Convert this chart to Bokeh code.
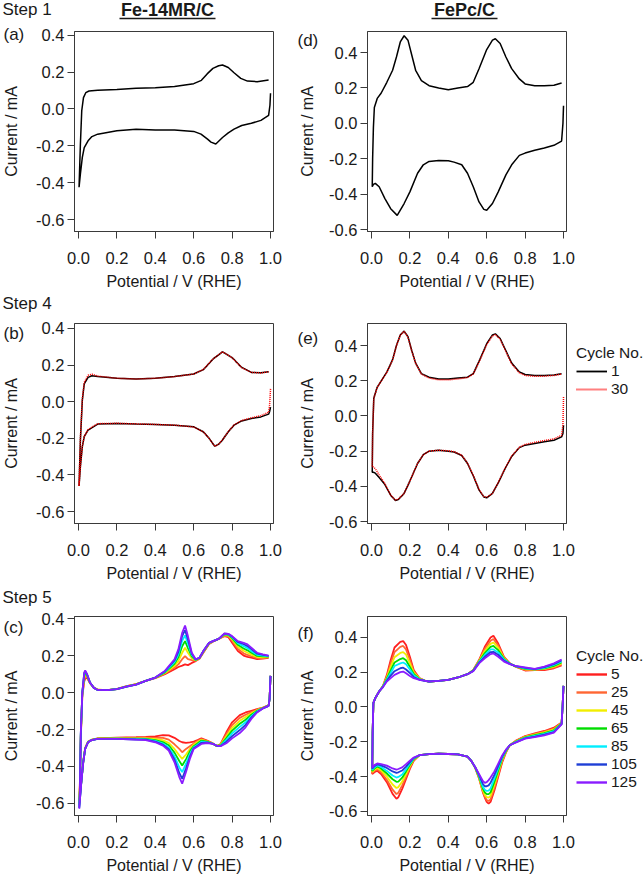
from bokeh.plotting import figure
from bokeh.models import Range1d, FixedTicker, PrintfTickFormatter, Legend, LegendItem, GridBox
from bokeh.layouts import column, row
from bokeh.core.properties import value
from bokeh.embed import file_html
from bokeh.resources import INLINE

# ---------------- data ----------------
X_TICKS = [0.0, 0.2, 0.4, 0.6, 0.8, 1.0]
Y_TICKS = [-0.6, -0.4, -0.2, 0.0, 0.2, 0.4]
X_LABEL = "Potential / V (RHE)"
Y_LABEL = "Current / mA"
COL_TITLES = ["Fe-14MR/C", "FePc/C"]
STEP_LABELS = ["Step 1", "Step 4", "Step 5"]
LEFT_LETTERS = ["(a)", "(b)", "(c)"]
RIGHT_LETTERS = ["(d)", "(e)", "(f)"]
LEGEND_TITLE = "Cycle No."
STEP4_CYCLES = ["1", "30"]

# (a) Fe-14MR/C, step 1
A_DN_E = [1.0, 0.997, 0.99, 0.95, 0.9, 0.85, 0.81, 0.78, 0.75, 0.715, 0.69, 0.672, 0.638, 0.6, 0.5, 0.4, 0.3, 0.2, 0.1, 0.07, 0.05, 0.03, 0.02, 0.01, 0.003]
A_DN_I = [0.085, 0.02, -0.035, -0.062, -0.078, -0.09, -0.11, -0.13, -0.155, -0.19, -0.18, -0.164, -0.137, -0.122, -0.115, -0.115, -0.11, -0.119, -0.137, -0.15, -0.173, -0.21, -0.263, -0.353, -0.425]
A_UP_E = [0.003, 0.01, 0.017, 0.026, 0.038, 0.055, 0.1, 0.2, 0.3, 0.4, 0.5, 0.6, 0.64, 0.67, 0.7, 0.73, 0.75, 0.78, 0.81, 0.845, 0.88, 0.93, 0.99]
A_UP_I = [-0.425, -0.19, -0.01, 0.061, 0.088, 0.097, 0.101, 0.106, 0.112, 0.115, 0.121, 0.137, 0.155, 0.19, 0.22, 0.234, 0.238, 0.225, 0.196, 0.166, 0.151, 0.148, 0.157]

# (d) FePc/C, step 1
D_DN_E = [1.0, 0.997, 0.99, 0.95, 0.9, 0.85, 0.8, 0.77, 0.73, 0.7, 0.66, 0.63, 0.6, 0.585, 0.56, 0.53, 0.5, 0.47, 0.43, 0.4, 0.35, 0.3, 0.27, 0.24, 0.2, 0.17, 0.134, 0.1, 0.07, 0.04, 0.02, 0.01, 0.004]
D_DN_I = [0.099, 0.0, -0.1, -0.124, -0.139, -0.152, -0.168, -0.181, -0.234, -0.291, -0.387, -0.453, -0.491, -0.486, -0.444, -0.358, -0.282, -0.234, -0.219, -0.211, -0.21, -0.215, -0.234, -0.282, -0.387, -0.453, -0.52, -0.482, -0.425, -0.358, -0.339, -0.345, -0.358]
D_UP_E = [0.006, 0.01, 0.015, 0.03, 0.05, 0.08, 0.11, 0.13, 0.15, 0.17, 0.19, 0.21, 0.23, 0.26, 0.3, 0.35, 0.4, 0.45, 0.5, 0.53, 0.56, 0.6, 0.63, 0.645, 0.67, 0.7, 0.73, 0.77, 0.8, 0.85, 0.9, 0.95, 0.99]
D_UP_I = [-0.2, -0.025, 0.09, 0.141, 0.17, 0.232, 0.3, 0.375, 0.46, 0.495, 0.47, 0.385, 0.3, 0.242, 0.213, 0.2, 0.19, 0.2, 0.208, 0.232, 0.309, 0.417, 0.47, 0.478, 0.451, 0.375, 0.309, 0.251, 0.223, 0.213, 0.213, 0.215, 0.228]

# (b) Fe-14MR/C, step 4 (cycle 1 and 30)
B_UP_E = [0.003, 0.01, 0.02, 0.03, 0.05, 0.07, 0.1, 0.2, 0.3, 0.4, 0.5, 0.6, 0.65, 0.7, 0.75, 0.8, 0.85, 0.9, 0.95, 0.99]
B1_UP = [-0.46, -0.209, 0.007, 0.097, 0.133, 0.142, 0.137, 0.128, 0.124, 0.128, 0.137, 0.151, 0.175, 0.232, 0.272, 0.241, 0.187, 0.16, 0.158, 0.164]
B30_UP = [-0.46, -0.2, 0.015, 0.105, 0.145, 0.15, 0.14, 0.128, 0.124, 0.128, 0.137, 0.151, 0.176, 0.233, 0.273, 0.24, 0.186, 0.16, 0.157, 0.163]
B_DN_E = [1.0, 0.995, 0.99, 0.95, 0.9, 0.85, 0.81, 0.78, 0.75, 0.73, 0.71, 0.68, 0.65, 0.6, 0.5, 0.4, 0.3, 0.2, 0.1, 0.05, 0.03, 0.02, 0.01, 0.003]
B1_DN = [-0.03, -0.055, -0.068, -0.083, -0.092, -0.105, -0.128, -0.164, -0.209, -0.232, -0.243, -0.2, -0.164, -0.137, -0.128, -0.124, -0.122, -0.119, -0.122, -0.155, -0.191, -0.245, -0.353, -0.46]
B30_DN = [0.07, -0.02, -0.058, -0.076, -0.088, -0.102, -0.127, -0.163, -0.208, -0.232, -0.244, -0.2, -0.165, -0.138, -0.128, -0.124, -0.121, -0.118, -0.12, -0.152, -0.19, -0.245, -0.35, -0.455]

# (e) FePc/C, step 4 (cycle 1 and 30)
E_UP_E = [0.006, 0.012, 0.03, 0.05, 0.08, 0.11, 0.13, 0.15, 0.17, 0.19, 0.21, 0.23, 0.26, 0.3, 0.35, 0.4, 0.45, 0.5, 0.53, 0.56, 0.6, 0.63, 0.645, 0.67, 0.7, 0.73, 0.77, 0.8, 0.85, 0.9, 0.95, 0.99]
E1_UP = [-0.1, 0.1, 0.164, 0.198, 0.249, 0.32, 0.4, 0.46, 0.482, 0.45, 0.37, 0.3, 0.24, 0.22, 0.21, 0.21, 0.215, 0.22, 0.24, 0.31, 0.41, 0.46, 0.466, 0.44, 0.37, 0.3, 0.25, 0.235, 0.23, 0.23, 0.232, 0.24]
E30_UP = [-0.1, 0.1, 0.162, 0.197, 0.247, 0.318, 0.398, 0.458, 0.48, 0.448, 0.368, 0.298, 0.238, 0.215, 0.205, 0.205, 0.21, 0.218, 0.238, 0.306, 0.405, 0.455, 0.462, 0.436, 0.365, 0.295, 0.245, 0.23, 0.225, 0.226, 0.23, 0.238]
E_DN_E = [1.0, 0.997, 0.99, 0.95, 0.9, 0.85, 0.8, 0.77, 0.73, 0.7, 0.66, 0.63, 0.6, 0.585, 0.56, 0.53, 0.5, 0.47, 0.43, 0.4, 0.35, 0.3, 0.27, 0.24, 0.2, 0.17, 0.14, 0.125, 0.1, 0.07, 0.04, 0.02, 0.01, 0.004]
E1_DN = [-0.053, -0.1, -0.119, -0.138, -0.147, -0.157, -0.166, -0.18, -0.23, -0.29, -0.38, -0.44, -0.465, -0.46, -0.42, -0.34, -0.27, -0.225, -0.205, -0.2, -0.195, -0.2, -0.22, -0.27, -0.37, -0.44, -0.475, -0.48, -0.45, -0.39, -0.35, -0.325, -0.32, -0.32]
E30_DN = [0.108, -0.05, -0.11, -0.13, -0.14, -0.15, -0.162, -0.178, -0.228, -0.288, -0.378, -0.44, -0.462, -0.458, -0.418, -0.338, -0.268, -0.223, -0.203, -0.198, -0.195, -0.2, -0.22, -0.27, -0.37, -0.44, -0.472, -0.478, -0.45, -0.385, -0.335, -0.3, -0.29, -0.29]

# (c) Fe-14MR/C, step 5, cycles 5 ... 125
CYCLES = ["5", "25", "45", "65", "85", "105", "125"]
CYCLE_COLORS = ["#ff1f1f", "#ff6633", "#f2ee00", "#00dd00", "#00eeff", "#1f3fd6", "#8a1cff"]
C_UP_E = [0.007, 0.012, 0.02, 0.03, 0.035, 0.045, 0.06, 0.08, 0.1, 0.15, 0.2, 0.25, 0.3, 0.35, 0.4, 0.45, 0.5, 0.52, 0.54, 0.555, 0.57, 0.59, 0.61, 0.63, 0.65, 0.68, 0.7, 0.73, 0.76, 0.78, 0.8, 0.83, 0.86, 0.88, 0.9, 0.93, 0.96, 0.99]
C5_UP = [-0.5, -0.25, -0.02, 0.06, 0.075, 0.08, 0.05, 0.027, 0.016, 0.013, 0.02, 0.034, 0.046, 0.063, 0.078, 0.099, 0.126, 0.138, 0.145, 0.152, 0.148, 0.16, 0.17, 0.183, 0.215, 0.262, 0.275, 0.29, 0.305, 0.3, 0.269, 0.224, 0.2, 0.193, 0.188, 0.18, 0.183, 0.188]
C25_UP = [-0.51, -0.245, -0.01, 0.07, 0.085, 0.085, 0.051, 0.026, 0.015, 0.013, 0.019, 0.033, 0.045, 0.063, 0.079, 0.103, 0.135, 0.152, 0.18, 0.197, 0.18, 0.175, 0.172, 0.185, 0.218, 0.264, 0.276, 0.29, 0.308, 0.305, 0.28, 0.236, 0.212, 0.203, 0.196, 0.186, 0.186, 0.19]
C45_UP = [-0.52, -0.24, 0.0, 0.08, 0.095, 0.09, 0.052, 0.026, 0.015, 0.013, 0.019, 0.033, 0.044, 0.063, 0.08, 0.106, 0.145, 0.17, 0.215, 0.242, 0.215, 0.185, 0.174, 0.186, 0.22, 0.266, 0.277, 0.29, 0.311, 0.309, 0.288, 0.248, 0.226, 0.215, 0.205, 0.192, 0.19, 0.192]
C65_UP = [-0.53, -0.235, 0.0, 0.09, 0.105, 0.093, 0.053, 0.025, 0.014, 0.013, 0.018, 0.032, 0.044, 0.063, 0.08, 0.109, 0.155, 0.19, 0.25, 0.278, 0.24, 0.195, 0.176, 0.187, 0.222, 0.267, 0.277, 0.29, 0.314, 0.312, 0.294, 0.258, 0.238, 0.228, 0.215, 0.198, 0.195, 0.194]
C85_UP = [-0.54, -0.23, 0.0, 0.1, 0.11, 0.095, 0.054, 0.025, 0.014, 0.013, 0.018, 0.032, 0.043, 0.063, 0.081, 0.112, 0.165, 0.205, 0.28, 0.309, 0.265, 0.203, 0.178, 0.188, 0.223, 0.268, 0.278, 0.29, 0.316, 0.315, 0.299, 0.267, 0.25, 0.24, 0.225, 0.204, 0.199, 0.196]
C105_UP = [-0.55, -0.225, 0.0, 0.105, 0.115, 0.097, 0.054, 0.025, 0.014, 0.013, 0.018, 0.032, 0.043, 0.063, 0.081, 0.115, 0.173, 0.22, 0.305, 0.337, 0.287, 0.21, 0.179, 0.188, 0.224, 0.269, 0.278, 0.29, 0.318, 0.317, 0.302, 0.273, 0.261, 0.251, 0.235, 0.21, 0.203, 0.198]
C125_UP = [-0.56, -0.22, 0.0, 0.108, 0.12, 0.099, 0.054, 0.025, 0.014, 0.013, 0.018, 0.032, 0.043, 0.063, 0.081, 0.117, 0.18, 0.233, 0.323, 0.362, 0.305, 0.215, 0.18, 0.188, 0.224, 0.269, 0.278, 0.29, 0.319, 0.317, 0.305, 0.278, 0.269, 0.26, 0.242, 0.215, 0.206, 0.2]
C_DN_E = [1.0, 0.995, 0.99, 0.96, 0.93, 0.9, 0.87, 0.84, 0.8, 0.77, 0.74, 0.72, 0.7, 0.67, 0.64, 0.62, 0.6, 0.58, 0.56, 0.54, 0.525, 0.5, 0.47, 0.44, 0.4, 0.35, 0.3, 0.2, 0.1, 0.07, 0.05, 0.035, 0.025, 0.015, 0.004]
C5_DN = [0.09, -0.036, -0.07, -0.081, -0.09, -0.099, -0.108, -0.122, -0.161, -0.215, -0.278, -0.29, -0.275, -0.26, -0.248, -0.257, -0.265, -0.27, -0.272, -0.269, -0.262, -0.245, -0.232, -0.23, -0.237, -0.24, -0.242, -0.244, -0.248, -0.255, -0.265, -0.3, -0.37, -0.48, -0.58]
C25_DN = [0.09, -0.036, -0.07, -0.082, -0.093, -0.106, -0.12, -0.137, -0.176, -0.226, -0.281, -0.29, -0.276, -0.262, -0.252, -0.262, -0.275, -0.29, -0.305, -0.323, -0.305, -0.28, -0.255, -0.245, -0.245, -0.244, -0.245, -0.246, -0.249, -0.256, -0.266, -0.301, -0.372, -0.481, -0.59]
C45_DN = [0.09, -0.036, -0.071, -0.083, -0.096, -0.113, -0.133, -0.153, -0.191, -0.236, -0.283, -0.289, -0.276, -0.264, -0.256, -0.268, -0.283, -0.305, -0.335, -0.359, -0.34, -0.305, -0.272, -0.258, -0.252, -0.248, -0.248, -0.248, -0.25, -0.256, -0.267, -0.302, -0.373, -0.482, -0.6]
C65_DN = [0.09, -0.036, -0.071, -0.084, -0.099, -0.12, -0.147, -0.169, -0.206, -0.246, -0.285, -0.289, -0.277, -0.266, -0.26, -0.275, -0.29, -0.318, -0.36, -0.395, -0.37, -0.325, -0.285, -0.268, -0.258, -0.251, -0.25, -0.249, -0.25, -0.256, -0.268, -0.303, -0.374, -0.482, -0.61]
C85_DN = [0.09, -0.036, -0.072, -0.085, -0.102, -0.128, -0.161, -0.186, -0.221, -0.256, -0.287, -0.288, -0.277, -0.268, -0.266, -0.282, -0.296, -0.333, -0.385, -0.43, -0.405, -0.345, -0.297, -0.276, -0.262, -0.253, -0.252, -0.25, -0.251, -0.257, -0.268, -0.304, -0.375, -0.483, -0.62]
C105_DN = [0.09, -0.036, -0.072, -0.086, -0.105, -0.136, -0.175, -0.203, -0.236, -0.266, -0.289, -0.288, -0.278, -0.27, -0.272, -0.288, -0.301, -0.347, -0.41, -0.466, -0.435, -0.362, -0.306, -0.282, -0.266, -0.255, -0.254, -0.251, -0.251, -0.257, -0.269, -0.305, -0.376, -0.484, -0.625]
C125_DN = [0.09, -0.036, -0.072, -0.086, -0.108, -0.143, -0.188, -0.219, -0.248, -0.274, -0.29, -0.287, -0.278, -0.273, -0.278, -0.292, -0.305, -0.359, -0.43, -0.493, -0.457, -0.377, -0.314, -0.287, -0.269, -0.257, -0.255, -0.251, -0.251, -0.257, -0.269, -0.305, -0.377, -0.484, -0.628]

# (f) FePc/C, step 5, cycles 5 ... 125
F_UP_E = [0.006, 0.01, 0.02, 0.04, 0.06, 0.08, 0.1, 0.12, 0.15, 0.165, 0.18, 0.2, 0.22, 0.25, 0.28, 0.3, 0.35, 0.4, 0.45, 0.5, 0.53, 0.56, 0.59, 0.62, 0.635, 0.66, 0.69, 0.72, 0.75, 0.8, 0.85, 0.9, 0.95, 0.99]
F5_UP = [-0.15, 0.023, 0.051, 0.089, 0.121, 0.184, 0.269, 0.341, 0.373, 0.378, 0.355, 0.288, 0.212, 0.165, 0.15, 0.146, 0.15, 0.155, 0.169, 0.188, 0.212, 0.269, 0.345, 0.398, 0.408, 0.364, 0.288, 0.25, 0.231, 0.209, 0.212, 0.212, 0.222, 0.238]
F25_UP = [-0.15, 0.023, 0.051, 0.089, 0.12, 0.175, 0.25, 0.315, 0.345, 0.35, 0.33, 0.27, 0.205, 0.164, 0.15, 0.146, 0.15, 0.155, 0.169, 0.188, 0.211, 0.266, 0.333, 0.38, 0.39, 0.352, 0.284, 0.25, 0.232, 0.212, 0.213, 0.215, 0.226, 0.244]
F45_UP = [-0.15, 0.023, 0.051, 0.089, 0.119, 0.168, 0.23, 0.285, 0.31, 0.315, 0.3, 0.25, 0.197, 0.162, 0.15, 0.146, 0.15, 0.155, 0.169, 0.188, 0.21, 0.263, 0.321, 0.362, 0.37, 0.34, 0.28, 0.249, 0.232, 0.215, 0.214, 0.218, 0.231, 0.25]
F65_UP = [-0.15, 0.023, 0.051, 0.089, 0.118, 0.162, 0.21, 0.255, 0.275, 0.28, 0.268, 0.23, 0.19, 0.16, 0.15, 0.146, 0.15, 0.155, 0.169, 0.188, 0.209, 0.26, 0.309, 0.345, 0.35, 0.326, 0.276, 0.249, 0.233, 0.218, 0.215, 0.221, 0.236, 0.255]
F85_UP = [-0.15, 0.023, 0.051, 0.089, 0.117, 0.157, 0.195, 0.235, 0.25, 0.255, 0.245, 0.215, 0.182, 0.158, 0.15, 0.146, 0.15, 0.155, 0.169, 0.188, 0.208, 0.257, 0.298, 0.33, 0.33, 0.313, 0.272, 0.248, 0.234, 0.221, 0.216, 0.224, 0.241, 0.261]
F105_UP = [-0.15, 0.023, 0.051, 0.089, 0.115, 0.151, 0.18, 0.205, 0.222, 0.225, 0.215, 0.195, 0.172, 0.156, 0.15, 0.146, 0.15, 0.155, 0.169, 0.188, 0.207, 0.253, 0.288, 0.315, 0.316, 0.3, 0.266, 0.247, 0.234, 0.224, 0.217, 0.228, 0.246, 0.267]
F125_UP = [-0.15, 0.023, 0.051, 0.089, 0.114, 0.146, 0.165, 0.184, 0.2, 0.203, 0.193, 0.178, 0.165, 0.155, 0.15, 0.146, 0.15, 0.155, 0.169, 0.188, 0.205, 0.25, 0.279, 0.303, 0.307, 0.288, 0.26, 0.246, 0.235, 0.227, 0.218, 0.231, 0.25, 0.272]
F_DN_E = [1.0, 0.995, 0.99, 0.95, 0.9, 0.85, 0.8, 0.75, 0.72, 0.7, 0.68, 0.66, 0.64, 0.62, 0.61, 0.6, 0.59, 0.58, 0.56, 0.54, 0.52, 0.5, 0.45, 0.4, 0.35, 0.3, 0.25, 0.22, 0.2, 0.18, 0.16, 0.14, 0.13, 0.11, 0.08, 0.05, 0.03, 0.015, 0.004]
F5_DN = [0.121, 0.0, -0.09, -0.119, -0.138, -0.152, -0.167, -0.195, -0.22, -0.262, -0.32, -0.4, -0.48, -0.545, -0.555, -0.545, -0.52, -0.49, -0.41, -0.35, -0.31, -0.285, -0.272, -0.27, -0.268, -0.271, -0.277, -0.309, -0.356, -0.413, -0.47, -0.518, -0.527, -0.499, -0.432, -0.385, -0.366, -0.375, -0.385]
F25_DN = [0.121, 0.0, -0.092, -0.124, -0.142, -0.155, -0.17, -0.197, -0.22, -0.259, -0.313, -0.39, -0.465, -0.53, -0.54, -0.535, -0.515, -0.485, -0.408, -0.349, -0.31, -0.285, -0.272, -0.27, -0.268, -0.271, -0.277, -0.305, -0.348, -0.4, -0.45, -0.492, -0.5, -0.475, -0.418, -0.375, -0.358, -0.368, -0.379]
F45_DN = [0.121, 0.0, -0.093, -0.129, -0.146, -0.159, -0.172, -0.198, -0.22, -0.256, -0.305, -0.378, -0.448, -0.51, -0.52, -0.518, -0.505, -0.478, -0.405, -0.348, -0.31, -0.285, -0.272, -0.27, -0.268, -0.271, -0.277, -0.302, -0.34, -0.385, -0.428, -0.46, -0.465, -0.445, -0.4, -0.364, -0.35, -0.361, -0.373]
F65_DN = [0.121, 0.0, -0.095, -0.134, -0.15, -0.162, -0.175, -0.2, -0.22, -0.253, -0.298, -0.365, -0.43, -0.49, -0.5, -0.5, -0.49, -0.468, -0.4, -0.347, -0.31, -0.285, -0.272, -0.27, -0.268, -0.271, -0.277, -0.299, -0.332, -0.37, -0.406, -0.428, -0.43, -0.415, -0.382, -0.353, -0.342, -0.354, -0.367]
F85_DN = [0.121, 0.0, -0.097, -0.139, -0.155, -0.166, -0.177, -0.202, -0.22, -0.25, -0.292, -0.352, -0.41, -0.468, -0.48, -0.482, -0.475, -0.458, -0.395, -0.346, -0.31, -0.285, -0.272, -0.27, -0.268, -0.271, -0.277, -0.296, -0.325, -0.357, -0.388, -0.402, -0.405, -0.393, -0.367, -0.344, -0.336, -0.347, -0.361]
F105_DN = [0.121, 0.0, -0.098, -0.144, -0.159, -0.17, -0.18, -0.204, -0.22, -0.247, -0.286, -0.338, -0.39, -0.435, -0.45, -0.455, -0.455, -0.442, -0.39, -0.346, -0.31, -0.285, -0.272, -0.27, -0.268, -0.271, -0.277, -0.293, -0.317, -0.342, -0.365, -0.375, -0.378, -0.37, -0.35, -0.335, -0.33, -0.34, -0.355]
F125_DN = [0.121, 0.0, -0.1, -0.148, -0.163, -0.173, -0.182, -0.205, -0.22, -0.245, -0.28, -0.325, -0.37, -0.405, -0.42, -0.432, -0.436, -0.425, -0.385, -0.345, -0.31, -0.285, -0.272, -0.27, -0.268, -0.271, -0.277, -0.29, -0.309, -0.328, -0.347, -0.356, -0.36, -0.353, -0.337, -0.328, -0.324, -0.334, -0.35]

C_UP = [C5_UP, C25_UP, C45_UP, C65_UP, C85_UP, C105_UP, C125_UP]
C_DN = [C5_DN, C25_DN, C45_DN, C65_DN, C85_DN, C105_DN, C125_DN]
F_UP = [F5_UP, F25_UP, F45_UP, F65_UP, F85_UP, F105_UP, F125_UP]
F_DN = [F5_DN, F25_DN, F45_DN, F65_DN, F85_DN, F105_DN, F125_DN]

# ---------------- styling / layout ----------------
FONT = "Liberation Sans"
FRAME = 200
PAGE_W, PAGE_H = 644, 876
LEFT_B = (73, 23)      # left column: border left / right
RIGHT_B = (70, 78)     # right column
ROWS = [(31, 61), (31, 62), (31, 60)]  # top / bottom borders per row
AX = "#3a3a3a"
TXT = "#1a1a1a"
XR = (-0.0207, 1.0155)
NAN = float("nan")


def make_fig(yr, bl, br, bt, bb, ylab_standoff):
    p = figure(width=bl + FRAME + br, height=bt + FRAME + bb,
               x_range=Range1d(*XR), y_range=Range1d(*yr),
               output_backend="svg", toolbar_location=None,
               min_border_left=bl, min_border_right=br,
               min_border_top=bt, min_border_bottom=bb)
    p.xgrid.visible = False
    p.ygrid.visible = False
    p.outline_line_color = AX
    p.outline_line_width = 1
    p.border_fill_color = "white"
    p.background_fill_color = "white"
    for ax in (p.xaxis[0], p.yaxis[0]):
        ax.major_tick_in = 0
        ax.major_tick_out = 7
        ax.minor_tick_line_color = None
        ax.axis_line_color = AX
        ax.major_tick_line_color = AX
        ax.major_label_text_font = FONT
        ax.major_label_text_font_size = "16.5px"
        ax.major_label_text_color = TXT
        ax.axis_label_text_font = FONT
        ax.axis_label_text_font_size = "16px"
        ax.axis_label_text_font_style = "normal"
        ax.axis_label_text_color = TXT
        ax.formatter = PrintfTickFormatter(format="%.1f")
    p.xaxis.ticker = FixedTicker(ticks=X_TICKS)
    p.yaxis.ticker = FixedTicker(ticks=Y_TICKS)
    p.xaxis.axis_label = X_LABEL
    p.yaxis.axis_label = Y_LABEL
    p.xaxis.major_label_standoff = 13
    p.xaxis.axis_label_standoff = 6
    p.yaxis.major_label_standoff = 3
    p.yaxis.axis_label_standoff = ylab_standoff
    return p


def cv(p, dn_e, dn_i, up_e, up_i, **kw):
    return p.line(list(dn_e) + list(up_e), list(dn_i) + list(up_i), **kw)


def left_fig(yr, r):
    bt, bb = ROWS[r]
    return make_fig(yr, LEFT_B[0], LEFT_B[1], bt, bb, 13)


def right_fig(yr, r):
    bt, bb = ROWS[r]
    return make_fig(yr, RIGHT_B[0], RIGHT_B[1], bt, bb, 10)


pa = left_fig((-0.665, 0.42), 0)
pd = right_fig((-0.611, 0.519), 0)
cv(pa, A_DN_E, A_DN_I, A_UP_E, A_UP_I, line_color="black", line_width=1.5)
cv(pd, D_DN_E, D_DN_I, D_UP_E, D_UP_I, line_color="black", line_width=1.5)

pb = left_fig((-0.665, 0.427), 1)
pe = right_fig((-0.611, 0.525), 1)
cv(pb, B_DN_E, B1_DN, B_UP_E, B1_UP, line_color="black", line_width=1.5)
cv(pb, B_DN_E, B30_DN, B_UP_E, B30_UP, line_color="#ff0000", line_width=1.5, line_dash="1 1")
cv(pe, E_DN_E, E1_DN, E_UP_E, E1_UP, line_color="black", line_width=1.5)
cv(pe, E_DN_E, E30_DN, E_UP_E, E30_UP, line_color="#ff0000", line_width=1.5, line_dash="1 1")

pc = left_fig((-0.665, 0.411), 2)
pf = right_fig((-0.623, 0.519), 2)
for k in range(len(CYCLES)):
    cv(pc, C_DN_E, C_DN[k], C_UP_E, C_UP[k], line_color=CYCLE_COLORS[k], line_width=1.8)
    cv(pf, F_DN_E, F_DN[k], F_UP_E, F_UP[k], line_color=CYCLE_COLORS[k], line_width=1.8)

panels = column(row(pa, pd), row(pb, pe), row(pc, pf))

# ---------- transparent overlay (page pixel coordinates) for texts outside the frames ----------
ov = figure(width=PAGE_W, height=PAGE_H, x_range=Range1d(0, PAGE_W), y_range=Range1d(PAGE_H, 0),
            output_backend="svg", toolbar_location=None, x_axis_type=None, y_axis_type=None,
            min_border=0, min_border_left=0, min_border_right=0, min_border_top=0, min_border_bottom=0)
ov.grid.visible = False
ov.outline_line_color = None
ov.background_fill_color = None
ov.border_fill_color = None

ROW_Y = [9, 303, 597]          # step label centres
LETTER_L_Y = [34, 333, 627]
LETTER_R_Y = [40, 338, 633]
ov.text(x=[2, 2, 2], y=ROW_Y, text=STEP_LABELS, text_font=value(FONT), text_font_size=value("17px"),
        text_color=TXT, text_baseline="middle", text_align="left")
ov.text(x=[3, 3, 3], y=LETTER_L_Y, text=LEFT_LETTERS, text_font=value(FONT), text_font_size=value("17px"),
        text_color=TXT, text_baseline="middle", text_align="left")
ov.text(x=[297, 297, 297], y=LETTER_R_Y, text=RIGHT_LETTERS, text_font=value(FONT), text_font_size=value("17px"),
        text_color=TXT, text_baseline="middle", text_align="left")
TITLE_X = [167, 464]
TITLE_HALF = [48, 33]
ov.text(x=TITLE_X, y=[9, 9], text=COL_TITLES, text_font=value(FONT), text_font_size=value("18px"),
        text_font_style="bold", text_color=TXT, text_baseline="middle", text_align="center")
ov.segment(x0=[TITLE_X[0] - TITLE_HALF[0], TITLE_X[1] - TITLE_HALF[1]], y0=[18, 18],
           x1=[TITLE_X[0] + TITLE_HALF[0], TITLE_X[1] + TITLE_HALF[1]], y1=[18, 18],
           line_color=TXT, line_width=1.6)

# legend sample renderers (a single NaN point: nothing is drawn, they only carry the line styles)
leg_e = [ov.line([NAN], [NAN], line_color="black", line_width=1.8),
         ov.line([NAN], [NAN], line_color="#ff0000", line_width=2, line_dash="1 1")]
leg_f = [ov.line([NAN], [NAN], line_color=c, line_width=2.4) for c in CYCLE_COLORS]


def make_legend(renderers, labels, loc):
    leg = Legend(items=[LegendItem(label=l, renderers=[r]) for l, r in zip(labels, renderers)],
                 location=loc, title=LEGEND_TITLE, orientation="vertical",
                 border_line_color=None, background_fill_alpha=0, padding=0, margin=0,
                 spacing=0, glyph_width=31, glyph_height=16, label_height=16,
                 label_standoff=4, label_text_font=FONT, label_text_font_size="15.5px",
                 label_text_color=TXT, title_text_font=FONT, title_text_font_size="15.5px",
                 title_text_font_style="normal", title_text_color=TXT, title_standoff=0)
    ov.add_layout(leg)


make_legend(leg_e, STEP4_CYCLES, (576, PAGE_H - 398))
make_legend(leg_f, CYCLES, (576, PAGE_H - 791))

grid = GridBox(children=[(panels, 0, 0), (column(ov), 0, 0)], spacing=0)
open("out.html", "w").write(file_html(grid, INLINE))
